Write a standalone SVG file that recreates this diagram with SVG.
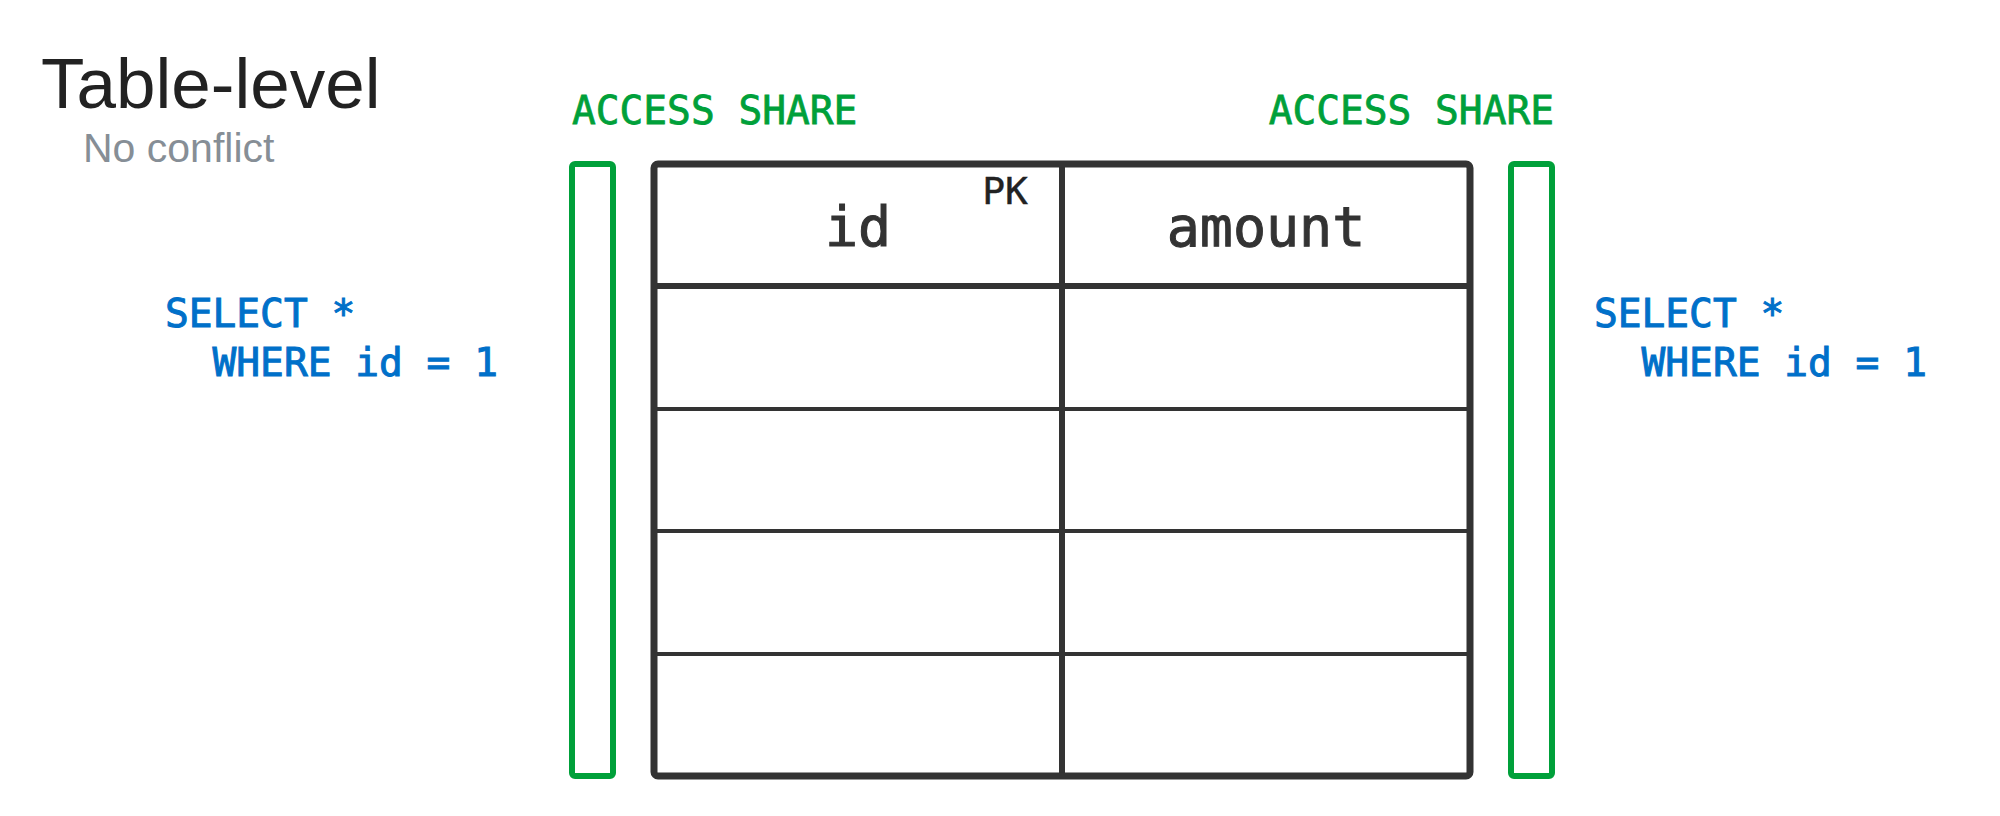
<svg xmlns="http://www.w3.org/2000/svg" width="2000" height="816" viewBox="0 0 2000 816">
<style>
.title{font-family:"Liberation Sans",Arial,sans-serif;font-size:71px;fill:#222}
.sub{font-family:"Liberation Sans",Arial,sans-serif;font-size:41px;fill:#868e96}
.mono{font-family:"DejaVu Sans Mono","Liberation Mono",monospace}
.lock{font-size:39.5px;fill:#00a03a;stroke:#00a03a;stroke-width:0.8}
.sql{font-size:39.5px;fill:#0070c9;stroke:#0070c9;stroke-width:1}
.hdr{font-size:55px;fill:#333;stroke:#333;stroke-width:1}
.pk{font-size:38px;fill:#222;stroke:#222;stroke-width:0.4}
.lockbox{fill:none;stroke:#00a03a;stroke-width:6}
.grid{stroke:#333;fill:none}
</style>
<rect width="2000" height="816" fill="#fff"/>
<g id="title">
<text class="title" x="41" y="108">Table-level</text>
<text class="sub" x="83" y="162">No conflict</text>
</g>
<g id="lock-left">
<text class="mono lock" x="572" y="124">ACCESS SHARE</text>
<rect class="lockbox" x="572" y="164" width="41" height="612" rx="3"/>
</g>
<g id="lock-right">
<text class="mono lock" x="1554" y="124" text-anchor="end">ACCESS SHARE</text>
<rect class="lockbox" x="1511" y="164" width="41" height="612" rx="3"/>
</g>
<g id="query-left">
<text class="mono sql" x="165" y="327" xml:space="preserve">SELECT *</text>
<text class="mono sql" x="165" y="376" xml:space="preserve">  WHERE id = 1</text>
</g>
<g id="query-right">
<text class="mono sql" x="1594" y="327" xml:space="preserve">SELECT *</text>
<text class="mono sql" x="1594" y="376" xml:space="preserve">  WHERE id = 1</text>
</g>
<g id="table">
<line class="grid" x1="654" y1="286" x2="1470" y2="286" stroke-width="6"/>
<line class="grid" x1="654" y1="409" x2="1470" y2="409" stroke-width="4"/>
<line class="grid" x1="654" y1="531" x2="1470" y2="531" stroke-width="4"/>
<line class="grid" x1="654" y1="654" x2="1470" y2="654" stroke-width="4"/>
<line class="grid" x1="1062" y1="164" x2="1062" y2="776" stroke-width="6"/>
<rect class="grid" x="654" y="164" width="816" height="612" rx="4" stroke-width="7"/>
<text class="mono hdr" x="858" y="246" text-anchor="middle">id</text>
<text class="mono pk" x="1028" y="204" text-anchor="end">PK</text>
<text class="mono hdr" x="1266" y="246" text-anchor="middle">amount</text>
</g>
</svg>
